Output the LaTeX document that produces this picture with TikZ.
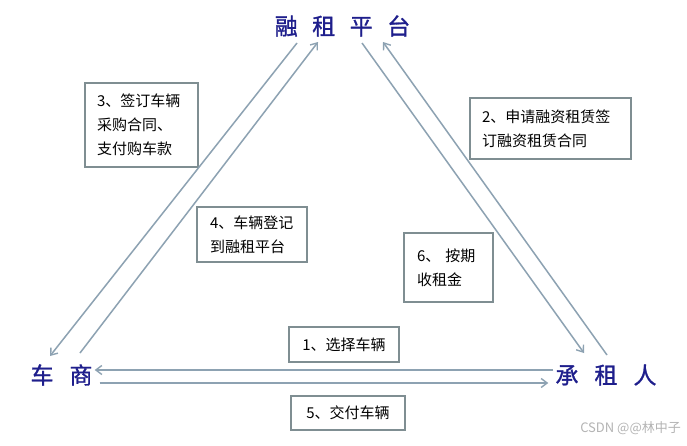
\documentclass[tikz,border=0pt]{standalone}
\usepackage{fontspec}
\setmainfont{Noto Sans CJK SC}
\newfontfamily\partyfont[FakeBold=1.2]{Noto Sans CJK SC}
\usetikzlibrary{arrows.meta,positioning}
\definecolor{PartyBlue}{HTML}{1E1E8C}
\definecolor{BoxGray}{HTML}{7F8E92}
\definecolor{ArrowGray}{HTML}{8DA2B2}
\definecolor{MarkGray}{HTML}{B4B4B4}

\begin{document}
\begin{tikzpicture}[x=1pt, y=-1pt,
    party/.style={font=\partyfont\fontsize{23}{23}\selectfont, text=PartyBlue, inner sep=3pt},
    note/.style={draw=BoxGray, line width=1.6pt, fill=white, align=left, inner sep=0pt, font=\fontsize{15}{24}\selectfont},
    arr/.style={-{Straight Barb[length=6pt, width=9pt, line width=1.4pt]}, draw=ArrowGray, line width=1.5pt}
  ]
    \fill[white] (0,0) rectangle (687,445);
    \useasboundingbox (0,0) rectangle (687,445);

    % Parties
    \node[party] (plat) at (342.5,26) {融\hspace{14.5pt}租\hspace{14.5pt}平\hspace{14.5pt}台};
    \node[party] (dealer) at (61.5,375) {车\hspace{16pt}商};
    \node[party] (lessee) at (606,375) {承\hspace{16pt}租\hspace{16pt}人};

    % Step boxes
    \node[note, minimum width=113pt, minimum height=84pt, text width=89pt] (buy) at (141.5,125) {3、签订车辆\\采购合同、\\支付购车款};
    \node[note, minimum width=110pt, minimum height=55pt, text width=84pt] (reg) at (252,234.5) {4、车辆登记\\到融租平台};
    \node[note, minimum width=161pt, minimum height=61pt, text width=137pt] (apply) at (550.5,128.5) {2、申请融资租赁签\\订融资租赁合同};
    \node[note, minimum width=89pt, minimum height=69pt, text width=63pt] (rent) at (448.5,267.5) {6、 按期\\收租金};
    \node[note, align=center, minimum width=110pt, minimum height=35pt] (pick) at (344,344.5) {1、选择车辆};
    \node[note, align=center, minimum width=114pt, minimum height=34pt] (deliver) at (348,413) {5、交付车辆};

    % Connector ends
    \coordinate (platLo) at (297,43);
    \coordinate (platLi) at (318,42);
    \coordinate (platRi) at (362,43);
    \coordinate (platRo) at (383,42);
    \coordinate (dealerTo) at (50,356);
    \coordinate (dealerFrom) at (80,353);
    \coordinate (lesseeTo) at (584,353);
    \coordinate (lesseeFrom) at (607,355);

    % Connectors
    \draw[arr] (platLo) -- (dealerTo);
    \draw[arr] (dealerFrom) -- (platLi);
    \draw[arr] (platRi) -- (lesseeTo);
    \draw[arr] (lesseeFrom) -- (platRo);
    \draw[arr] ([xshift=1pt, yshift=5pt]lessee.west) -- ([xshift=-1pt, yshift=5pt]dealer.east);
    \draw[arr] ([xshift=4pt, yshift=-8pt]dealer.east) -- ([xshift=-4pt, yshift=-8pt]lessee.west);

    % Watermark
    \node[anchor=east, text=MarkGray, font=\fontsize{13}{13}\selectfont, inner sep=0pt] (mark) at (681,428) {CSDN @@林中子};
\end{tikzpicture}
\end{document}
